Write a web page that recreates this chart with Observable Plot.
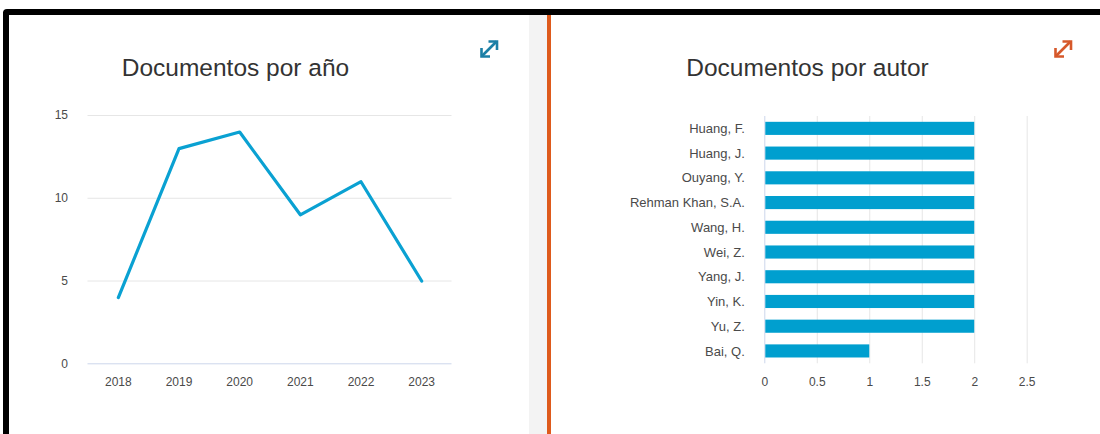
<!DOCTYPE html>
<html>
<head>
<meta charset="utf-8">
<script src="https://cdn.jsdelivr.net/npm/d3@7"></script>
<script src="https://cdn.jsdelivr.net/npm/@observablehq/plot@0.6"></script>
<style>
  html, body { margin: 0; padding: 0; background: #fff; }
  #page { position: relative; width: 1100px; height: 434px; overflow: hidden; background: #fff;
          font-family: "Liberation Sans", Arial, Helvetica, sans-serif; }
  .abs { position: absolute; }
  .title { position: absolute; width: 400px; text-align: center; font-size: 24.5px; line-height: 24px; color: #333; white-space: nowrap; }
  .chart { position: absolute; }
  .chart svg { overflow: visible; }
</style>
</head>
<body>
<div id="page">
  <div class="abs" style="left:3px;top:9px;width:1097px;height:6px;background:#000;border-top-left-radius:4px;"></div>
  <div class="abs" style="left:3px;top:12px;width:6px;height:422px;background:#000;"></div>
  <div class="abs" style="left:529px;top:15px;width:18px;height:419px;background:#f3f3f3;"></div>
  <div class="abs" style="left:547px;top:15px;width:4px;height:419px;background:#de5a1c;"></div>

  <div class="title" style="left:35.5px;top:56px;">Documentos por año</div>
  <div class="title" style="left:607.5px;top:56px;">Documentos por autor</div>

  <svg class="abs" style="left:479px;top:39px;" width="21" height="20" viewBox="0 0 21 20">
    <g fill="none" stroke="#1b7fa6" stroke-width="2.6">
      <line x1="3" y1="17" x2="17.5" y2="2.5"/>
      <polyline points="9.5,2.5 18,2.5 18,11"/>
      <polyline points="2.5,9 2.5,17.5 11,17.5"/>
    </g>
  </svg>
  <svg class="abs" style="left:1053px;top:39px;" width="21" height="20" viewBox="0 0 21 20">
    <g fill="none" stroke="#d6582a" stroke-width="2.6">
      <line x1="3" y1="17" x2="17.5" y2="2.5"/>
      <polyline points="9.5,2.5 18,2.5 18,11"/>
      <polyline points="2.5,9 2.5,17.5 11,17.5"/>
    </g>
  </svg>

  <div id="left" class="chart" style="left:0px;top:100px;"></div>
  <div id="right" class="chart" style="left:551px;top:100px;"></div>
</div>
<script>
// ---- Data ----
const years = ["2018", "2019", "2020", "2021", "2022", "2023"];
const docsPerYear = [4, 13, 14, 9, 11, 5];
const yearTicks = [0, 5, 10, 15];

const authors = ["Huang, F.", "Huang, J.", "Ouyang, Y.", "Rehman Khan, S.A.", "Wang, H.", "Wei, Z.", "Yang, J.", "Yin, K.", "Yu, Z.", "Bai, Q."];
const docsPerAuthor = [2, 2, 2, 2, 2, 2, 2, 2, 2, 1];
const authorTicks = [0, 0.5, 1, 1.5, 2, 2.5];

const yearData = years.map((y, i) => ({year: y, n: docsPerYear[i]}));
const authorData = authors.map((a, i) => ({author: a, n: docsPerAuthor[i]}));

const baseStyle = {fontFamily: '"Liberation Sans", Arial, Helvetica, sans-serif', fontSize: "12px", color: "#4a4a4a", background: "transparent", overflow: "visible"};

const left = Plot.plot({
  width: 530, height: 300,
  marginLeft: 87.5, marginRight: 78.5, marginTop: 15, marginBottom: 36.7,
  style: baseStyle,
  x: {type: "point", domain: years, padding: 0.5, round: false, label: null},
  y: {domain: [0, 15], label: null},
  marks: [
    Plot.ruleY(yearTicks.filter(d => d > 0), {stroke: "#e6e6e6", strokeWidth: 1}),
    Plot.ruleY([0], {stroke: "#ccd6eb", strokeWidth: 1}),
    Plot.axisY(yearTicks, {tickSize: 0, tickPadding: 20, label: null}),
    Plot.axisX(years, {tickSize: 0, tickPadding: 14, label: null}),
    Plot.line(yearData, {x: "year", y: "n", stroke: "#0aa1d2", strokeWidth: 3.2, strokeLinejoin: "round", strokeLinecap: "round"})
  ]
});
document.getElementById("left").appendChild(left);

const right = Plot.plot({
  width: 549, height: 300,
  marginLeft: 213.3, marginRight: 73.3, marginTop: 16, marginBottom: 36.7,
  style: baseStyle,
  x: {domain: [0, 2.5], label: null},
  y: {type: "band", domain: authors, paddingInner: 0.47, paddingOuter: 0.235, round: false, label: null},
  marks: [
    Plot.ruleX(authorTicks.filter(d => d > 0), {stroke: "#e6e6e6", strokeWidth: 1}),
    Plot.ruleX([0], {stroke: "#ccd6eb", strokeWidth: 1}),
    Plot.barX(authorData, {x: "n", y: "author", fill: "#009fcf", insetLeft: 1}),
    Plot.axisY({tickSize: 0, tickPadding: 20, fontSize: 13, label: null}),
    Plot.axisX(authorTicks, {tickSize: 0, tickPadding: 14, tickFormat: d => String(d), label: null})
  ]
});
document.getElementById("right").appendChild(right);
</script>
</body>
</html>
